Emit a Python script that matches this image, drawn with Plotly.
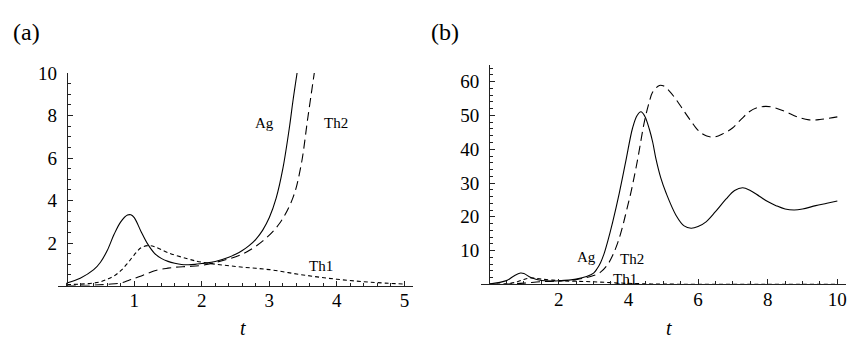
import plotly.graph_objects as go

# ---------------- Panel (a) data ----------------
a_ag_t = [0, 0.2, 0.4, 0.5, 0.6, 0.7, 0.8, 0.9, 0.95, 1.0, 1.1, 1.2, 1.3, 1.4, 1.5, 1.6, 1.7, 1.8,
          1.9, 2.0, 2.2, 2.4, 2.5, 2.6, 2.7, 2.8, 2.9, 3.0, 3.1, 3.2, 3.3, 3.35, 3.42]
a_ag_y = [0.12, 0.35, 0.75, 1.1, 1.65, 2.4, 3.0, 3.32, 3.33, 3.2, 2.55, 1.95, 1.52, 1.28, 1.14, 1.05, 0.99, 0.98,
          1.0, 1.04, 1.13, 1.33, 1.47, 1.65, 1.88, 2.18, 2.6, 3.2, 4.1, 5.5, 7.5, 8.7, 10.2]

a_th2_t = [0, 0.4, 0.6, 0.8, 0.93, 1.0, 1.13, 1.33, 1.5, 1.62, 1.8, 2.0, 2.3, 2.6, 2.9, 3.15, 3.35, 3.47, 3.57, 3.67]
a_th2_y = [0.0, 0.02, 0.06, 0.12, 0.26, 0.33, 0.49, 0.72, 0.82, 0.87, 0.9, 0.95, 1.17, 1.48, 2.09, 2.92, 4.14, 5.66, 7.9, 10.1]

a_th1_t = [0, 0.2, 0.4, 0.5, 0.6, 0.7, 0.8, 0.9, 1.0, 1.1, 1.2, 1.3, 1.5, 1.8, 2.0, 2.5, 3.0, 3.5, 4.0, 4.5, 5.0]
a_th1_y = [0.05, 0.07, 0.12, 0.18, 0.3, 0.45, 0.7, 1.05, 1.45, 1.78, 1.88, 1.83, 1.55, 1.25, 1.1, 0.9, 0.75, 0.5, 0.3, 0.16, 0.07]

# ---------------- Panel (b) data ----------------
b_ag_t = [0, 0.5, 0.7, 0.9, 1.0, 1.2, 1.5, 1.8, 2.0, 2.5, 2.8, 3.0, 3.1, 3.2, 3.3, 3.4, 3.55, 3.74, 3.93,
          4.12, 4.25, 4.36, 4.47, 4.6, 4.7, 4.79, 4.93, 5.08, 5.37, 5.6, 5.8, 6.0, 6.23, 6.5, 6.8, 7.05, 7.28, 7.5,
          7.76, 8.0, 8.24, 8.5, 8.76, 9.0, 9.38, 9.7, 10.0]
b_ag_y = [0.12, 1.1, 2.4, 3.35, 3.2, 2.0, 1.15, 1.0, 1.05, 1.55, 2.3, 3.3, 4.6, 6.4, 9.0, 12.5, 18.5, 27.1, 36.7,
          46.3, 50.0, 51.1, 49.8, 46.0, 42.0, 37.2, 31.5, 27.1, 20.4, 17.3, 16.6, 17.1, 18.5, 21.5, 25.2, 27.8, 28.6, 27.8,
          26.1, 24.5, 23.3, 22.3, 22.0, 22.3, 23.3, 24.0, 24.7]

b_th2_t = [0, 0.5, 1.0, 1.5, 2.0, 2.5, 2.8, 3.0, 3.2, 3.4, 3.55, 3.7, 3.83, 3.95, 4.07, 4.26, 4.46, 4.6, 4.69,
           4.89, 5.0, 5.17, 5.35, 5.55, 5.8, 6.03, 6.25, 6.46, 6.7, 6.99, 7.25, 7.47, 7.7, 7.95, 8.2, 8.52,
           8.85, 9.19, 9.5, 10.0]
b_th2_y = [0.0, 0.05, 0.35, 0.8, 0.95, 1.4, 2.0, 2.6, 3.6, 5.8, 8.6, 12.5, 17.0, 22.0, 27.1, 36.7, 48.2, 54.0, 56.8,
           58.9, 58.8, 57.3, 55.0, 52.0, 48.3, 45.3, 43.9, 43.6, 44.5, 46.3, 49.0, 51.1, 52.3, 52.7, 52.3, 51.1,
           49.6, 48.7, 48.8, 49.6]

b_th1_t = [0, 0.5, 0.8, 1.0, 1.2, 1.5, 2.0, 2.5, 3.0, 3.5, 4.0, 4.5, 5.0, 6.0, 8.0, 10.0]
b_th1_y = [0.05, 0.18, 0.7, 1.45, 1.88, 1.55, 1.1, 0.9, 0.75, 0.5, 0.3, 0.15, 0.07, 0.03, 0.01, 0.0]

# tick values
a_xticks = [1, 2, 3, 4, 5]
a_yticks = [2, 4, 6, 8, 10]
b_xticks = [2, 4, 6, 8, 10]
b_yticks = [10, 20, 30, 40, 50, 60]

# labels: (text, t, y)
a_labels = [("Ag", 2.93, 7.64), ("Th2", 3.98, 7.64), ("Th1", 3.77, 0.94)]
b_labels = [("Ag", 2.80, 8.0), ("Th2", 4.1, 7.5), ("Th1", 3.9, 1.6)]

W, H = 850, 338
FONT = "Liberation Serif"

# Geometry (pixels)
a_xr = [-0.13, 5.12]
a_yr = [0, 10]
a_px = [58, 413]
a_py = [65, 284]  # top, bottom
b_xr = [-0.22, 10.24]
b_yr = [0, 65]
b_px = [482, 846.7]
b_py = [56.5, 282.7]


def pos_of_zero(xr, px):
    p = px[0] + (0 - xr[0]) / (xr[1] - xr[0]) * (px[1] - px[0])
    return p / W


fig = go.Figure()
line_styles = {"Ag": "solid", "Th2": "9px,5px", "Th1": "4px,3px"}


def add(t, y, name, xa, ya):
    fig.add_trace(go.Scatter(x=t, y=y, mode="lines", xaxis=xa, yaxis=ya, showlegend=False, name=name,
                             line=dict(color="black", width=1.1, dash=line_styles[name],
                                       shape="spline", smoothing=1.0)))


add(a_ag_t, a_ag_y, "Ag", "x", "y")
add(a_th2_t, a_th2_y, "Th2", "x", "y")
add(a_th1_t, a_th1_y, "Th1", "x", "y")
add(b_ag_t, b_ag_y, "Ag", "x2", "y2")
add(b_th2_t, b_th2_y, "Th2", "x2", "y2")
add(b_th1_t, b_th1_y, "Th1", "x2", "y2")

tickfont = dict(family=FONT, size=19, color="black")


def xaxis(xr, px, ticks, minor_dt, anchor):
    return dict(range=xr, domain=[px[0] / W, px[1] / W], anchor=anchor,
                showgrid=False, zeroline=False, showline=True, linecolor="#222", linewidth=1,
                ticks="inside", ticklen=5, tickcolor="#222", tickwidth=1,
                tickvals=ticks, ticktext=[str(v) for v in ticks], tickfont=tickfont,
                ticklabelstandoff=-2,
                minor=dict(ticks="inside", ticklen=3, tickcolor="#222", dtick=minor_dt, tick0=0, showgrid=False))


def yaxis(yr, py, ticks, minor_dt, position):
    return dict(range=yr, domain=[1 - py[1] / H, 1 - py[0] / H], anchor="free", position=position,
                showgrid=False, zeroline=False, showline=True, linecolor="#222", linewidth=1,
                ticks="inside", ticklen=5, tickcolor="#222", tickwidth=1,
                tickvals=ticks, ticktext=[str(v) for v in ticks], tickfont=tickfont,
                ticklabelstandoff=6,
                minor=dict(ticks="inside", ticklen=3, tickcolor="#222", dtick=minor_dt, tick0=0, showgrid=False))


annotations = []
for text, t, y in a_labels:
    annotations.append(dict(x=t, y=y, xref="x", yref="y", text=text, showarrow=False,
                            xanchor="center", yanchor="middle",
                            font=dict(family=FONT, size=15, color="black")))
for text, t, y in b_labels:
    annotations.append(dict(x=t, y=y, xref="x2", yref="y2", text=text, showarrow=False,
                            xanchor="center", yanchor="middle",
                            font=dict(family=FONT, size=15, color="black")))


def paper_text(text, px, py, size):
    return dict(x=px / W, y=1 - py / H, xref="paper", yref="paper", text=text, showarrow=False,
                xanchor="center", yanchor="middle", font=dict(family=FONT, size=size, color="black"))


annotations.append(paper_text("<i>t</i>", 243.3, 328, 20))
annotations.append(paper_text("<i>t</i>", 670, 328, 20))
annotations.append(paper_text("(a)", 26.5, 23, 24))
annotations.append(paper_text("(b)", 446, 23, 24))

fig.update_layout(
    width=W, height=H, margin=dict(l=0, r=0, t=0, b=0),
    paper_bgcolor="white", plot_bgcolor="white",
    xaxis=xaxis(a_xr, a_px, a_xticks, 0.2, "y"),
    yaxis=yaxis(a_yr, a_py, a_yticks, 0.5, pos_of_zero(a_xr, a_px)),
    xaxis2=xaxis(b_xr, b_px, b_xticks, 0.5, "y2"),
    yaxis2=yaxis(b_yr, b_py, b_yticks, 2, pos_of_zero(b_xr, b_px)),
    annotations=annotations,
)

fig.write_html("out.html")
